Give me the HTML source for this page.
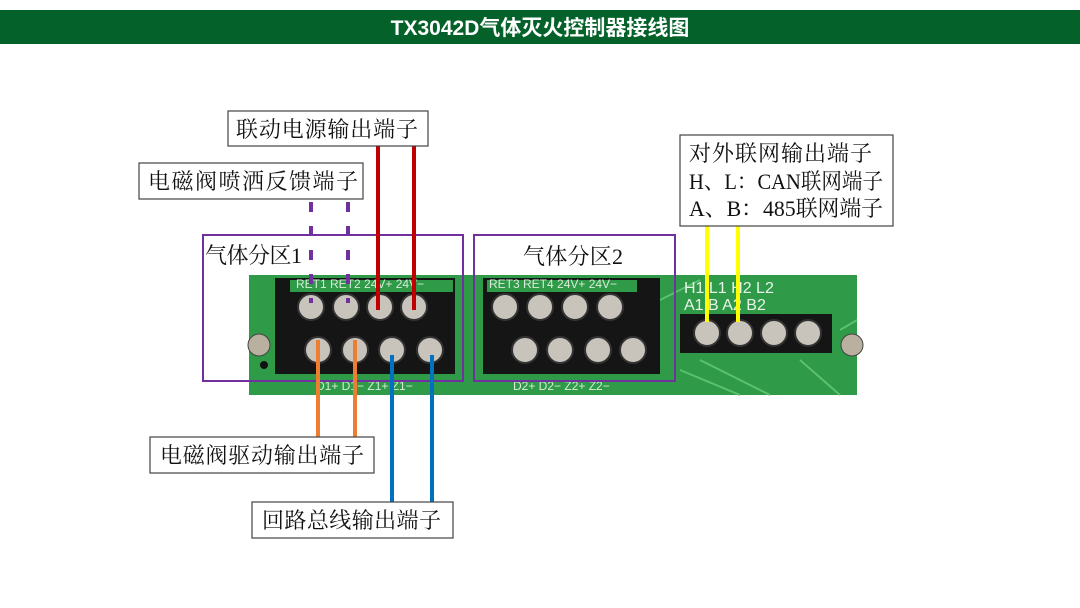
<!DOCTYPE html>
<html><head><meta charset="utf-8"><style>
html,body{margin:0;padding:0;background:#fff;width:1080px;height:608px;overflow:hidden}
svg{display:block}
.lb{font-family:"Liberation Serif","Noto Serif CJK SC",serif;font-size:22px;fill:#111}
.pcb{font-family:"Liberation Sans",sans-serif;font-size:12px;fill:#d8ecd8}
</style></head><body>
<svg width="1080" height="608" viewBox="0 0 1080 608">
<rect x="0" y="10" width="1080" height="34" fill="#046129"/>
<text x="540" y="35" text-anchor="middle" font-family="Liberation Sans,'Noto Sans CJK SC',sans-serif" font-weight="bold" font-size="21" fill="#fff">TX3042D气体灭火控制器接线图</text>

<!-- PCB -->
<rect x="249" y="275" width="608" height="120" fill="#2f9a48"/>
<path d="M660 300 L700 280 M840 330 L857 320 M680 370 L740 395 M700 360 L770 395 M800 360 L840 395" stroke="#5cc070" stroke-width="2" fill="none"/>
<circle cx="259" cy="345" r="11" fill="#b9b0a0" stroke="#444"/>
<circle cx="852" cy="345" r="11" fill="#b9b0a0" stroke="#444"/>
<circle cx="264" cy="365" r="4" fill="#111"/>
<!-- block1 -->
<rect x="275" y="278" width="180" height="96" fill="#151515"/>
<rect x="290" y="280" width="163" height="12" fill="#2f9a48"/>
<text class="pcb" x="296" y="288">RET1 RET2 24V+ 24V−</text>
<g fill="#c9c4bb" stroke="#333" stroke-width="2">
<circle cx="311" cy="307" r="13"/><circle cx="346" cy="307" r="13"/><circle cx="380" cy="307" r="13"/><circle cx="414" cy="307" r="13"/>
<circle cx="318" cy="350" r="13"/><circle cx="355" cy="350" r="13"/><circle cx="392" cy="350" r="13"/><circle cx="430" cy="350" r="13"/>
</g>
<!-- block2 -->
<rect x="483" y="278" width="177" height="96" fill="#151515"/>
<rect x="487" y="280" width="150" height="12" fill="#2f9a48"/>
<text class="pcb" x="489" y="288">RET3 RET4 24V+ 24V−</text>
<g fill="#c9c4bb" stroke="#333" stroke-width="2">
<circle cx="505" cy="307" r="13"/><circle cx="540" cy="307" r="13"/><circle cx="575" cy="307" r="13"/><circle cx="610" cy="307" r="13"/>
<circle cx="525" cy="350" r="13"/><circle cx="560" cy="350" r="13"/><circle cx="598" cy="350" r="13"/><circle cx="633" cy="350" r="13"/>
</g>
<text class="pcb" x="316" y="390">D1+ D1− Z1+ Z1−</text>
<text class="pcb" x="513" y="390">D2+ D2−   Z2+  Z2−</text>
<!-- block3 -->
<g font-family="Liberation Sans,sans-serif" font-size="16" fill="#e8f4e8">
<text x="684" y="293">H1 L1 H2 L2</text><text x="684" y="310">A1 B  A2 B2</text></g>
<rect x="680" y="314" width="152" height="39" fill="#151515"/>
<g fill="#c9c4bb" stroke="#333" stroke-width="2">
<circle cx="707" cy="333" r="13"/><circle cx="740" cy="333" r="13"/><circle cx="774" cy="333" r="13"/><circle cx="808" cy="333" r="13"/>
</g>

<!-- zones -->
<rect x="203" y="235" width="260" height="146" fill="none" stroke="#7030a0" stroke-width="2"/>
<rect x="474" y="235" width="201" height="146" fill="none" stroke="#7030a0" stroke-width="2"/>
<text class="lb" x="205" y="263" textLength="97">气体分区1</text>
<text class="lb" x="523" y="264" textLength="100">气体分区2</text>

<!-- wires -->
<g stroke-width="4" fill="none">
<line x1="378" y1="146" x2="378" y2="310" stroke="#c00000"/>
<line x1="414" y1="146" x2="414" y2="310" stroke="#c00000"/>
<line x1="311" y1="202" x2="311" y2="303" stroke="#7030a0" stroke-dasharray="10,14"/>
<line x1="348" y1="202" x2="348" y2="303" stroke="#7030a0" stroke-dasharray="10,14"/>
<line x1="318" y1="340" x2="318" y2="437" stroke="#ed7d31"/>
<line x1="355" y1="340" x2="355" y2="437" stroke="#ed7d31"/>
<line x1="392" y1="355" x2="392" y2="503" stroke="#0070c0"/>
<line x1="432" y1="355" x2="432" y2="503" stroke="#0070c0"/>
<line x1="707" y1="226" x2="707" y2="322" stroke="#ffff00"/>
<line x1="738" y1="226" x2="738" y2="322" stroke="#ffff00"/>
</g>

<!-- label boxes -->
<g fill="#fff" stroke="#444" stroke-width="1.2">
<rect x="228" y="111" width="200" height="35"/>
<rect x="139" y="163" width="224" height="36"/>
<rect x="680" y="135" width="213" height="91"/>
<rect x="150" y="437" width="224" height="36"/>
<rect x="252" y="502" width="201" height="36"/>
</g>
<text class="lb" x="236" y="137" textLength="182">联动电源输出端子</text>
<text class="lb" x="148" y="189" textLength="210">电磁阀喷洒反馈端子</text>
<text class="lb" x="689" y="161" textLength="183">对外联网输出端子</text>
<text class="lb" x="689" y="189" textLength="194" lengthAdjust="spacingAndGlyphs">H、L：CAN联网端子</text>
<text class="lb" x="689" y="216" textLength="194" lengthAdjust="spacingAndGlyphs">A、B：485联网端子</text>
<text class="lb" x="160" y="463" textLength="204">电磁阀驱动输出端子</text>
<text class="lb" x="262" y="528" textLength="179">回路总线输出端子</text>
</svg>
</body></html>
